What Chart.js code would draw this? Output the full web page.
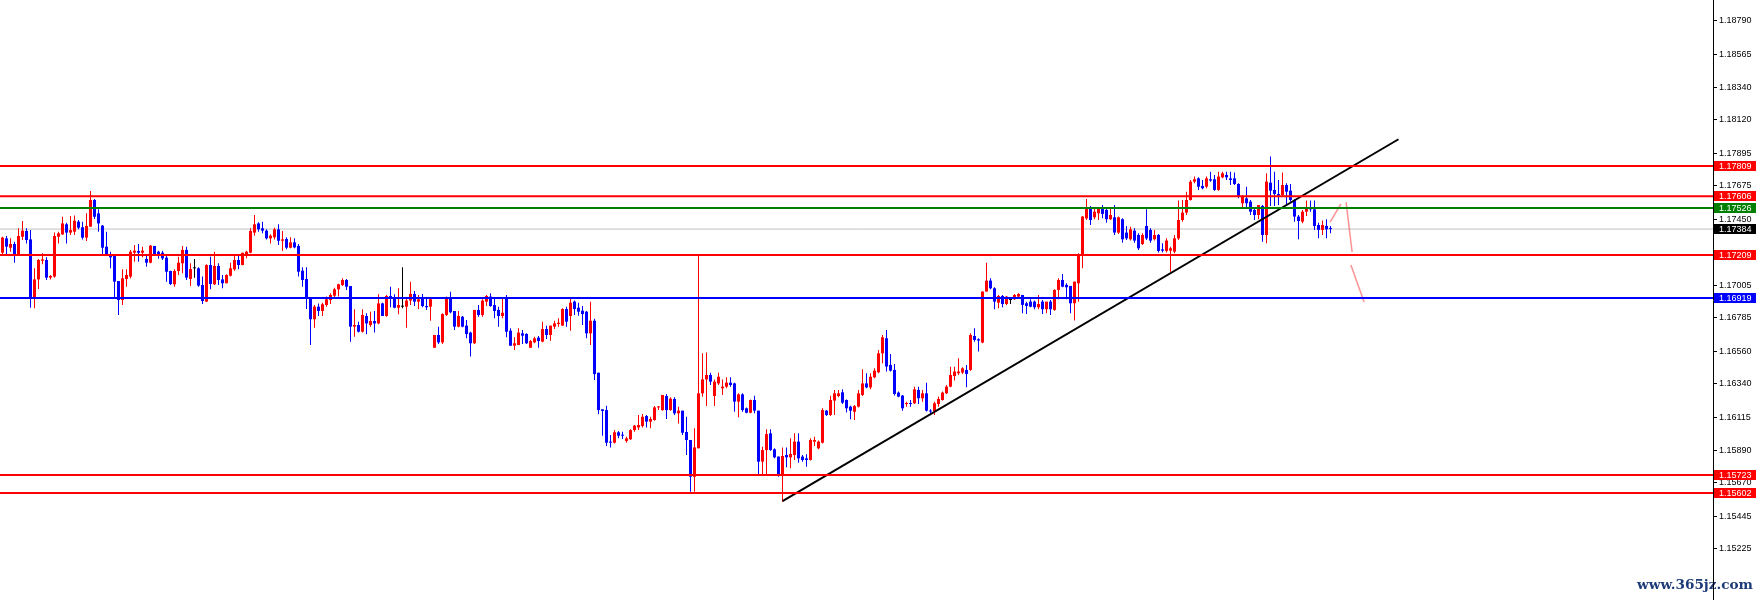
<!DOCTYPE html>
<html lang="es">
<head>
<meta charset="utf-8">
<title>EURUSD H1</title>
<script src="https://cdn.jsdelivr.net/npm/chart.js@4.4.1/dist/chart.umd.min.js"></script>
<style>
  html, body { margin: 0; padding: 0; background: #fff; }
  #contenedor { width: 1760px; height: 600px; position: relative; }
</style>
</head>
<body>
<div id="contenedor"><canvas id="myChart"></canvas></div>
<script>
// precios en puntos (117224 = 1.17224), una vela por posicion
const aperturas = [
  117224,117321,117258,117283,117209,117332,117371,117314,116916,117044,
  117170,117175,117056,117063,117332,117348,117416,117360,117366,117434,
  117396,117326,117400,117580,117490,117407,117265,117202,117202,117033,
  116905,117047,117063,117224,117236,117224,117182,117157,117270,117231,
  117224,117191,117101,117011,117101,117153,117243,117047,117119,117119,
  117006,116894,117141,117011,117135,117044,117018,117069,117112,117175,
  117141,117209,117224,117360,117422,117389,117373,117321,117328,117382,
  117305,117317,117258,117294,117270,117103,117047,116916,116775,116860,
  116831,116871,116905,116934,116977,117006,117040,116999,116725,116736,
  116691,116797,116736,116763,116747,116882,116797,116932,116916,116853,
  116860,116860,116901,116946,116894,116916,116864,116860,116583,116669,
  116619,116804,116916,116831,116725,116792,116732,116685,116613,116838,
  116804,116894,116928,116871,116838,116797,116912,116698,116597,116601,
  116680,116676,116583,116619,116651,116624,116709,116669,116725,116743,
  116732,116844,116797,116894,116853,116833,116826,116680,116765,116414,
  116167,116162,115949,115942,116012,115994,115953,115965,116027,116045,
  116054,116122,116084,116095,116180,116162,116257,116162,116237,116140,
  116158,116014,115960,115712,115904,116275,116369,116399,116257,116342,
  116309,116320,116347,116342,116219,116268,116174,116144,116230,116158,
  115814,115892,116005,115897,115848,115724,115859,115843,115859,115949,
  115848,115836,115825,115949,115904,115942,116158,116129,116226,116257,
  116282,116230,116185,116151,116185,116264,116342,116315,116383,116417,
  116545,116647,116467,116433,116280,116260,116203,116208,116208,116298,
  116242,116275,116158,116152,116203,116230,116275,116320,116392,116411,
  116415,116433,116433,116662,116640,116618,116962,117036,116984,116887,
  116932,116878,116905,116910,116928,116939,116883,116894,116894,116856,
  116894,116843,116894,116838,116973,117040,117007,117000,116883,117018,
  117202,117456,117531,117463,117490,117531,117513,117450,117463,117360,
  117450,117360,117315,117373,117344,117283,117405,117378,117315,117344,
  117247,117236,117238,117231,117321,117445,117495,117580,117704,117726,
  117675,117670,117720,117720,117648,117733,117749,117726,117726,117688,
  117558,117591,117569,117513,117479,117540,117344,117697,117648,117621,
  117614,117681,117643,117580,117468,117434,117501,117531,117517,117411,
  117378,117405,117387
];
const maximos = [
  117332,117337,117321,117299,117389,117438,117389,117377,117119,117182,
  117220,117193,117074,117360,117366,117467,117427,117472,117476,117445,
  117434,117490,117641,117587,117517,117411,117366,117231,117202,117033,
  117112,117112,117243,117276,117283,117265,117202,117276,117270,117238,
  117238,117215,117103,117112,117197,117270,117265,117153,117182,117126,
  117063,117146,117197,117231,117153,117074,117078,117157,117209,117202,
  117224,117238,117389,117479,117429,117434,117382,117348,117393,117416,
  117371,117328,117328,117321,117283,117126,117126,116916,116871,116882,
  116887,116928,116950,116988,117015,117051,117047,116999,116842,116759,
  116842,116815,116826,116831,116943,116887,116939,116995,116943,116984,
  117126,116923,117029,116966,116939,116946,116916,116916,116669,116725,
  116815,116928,116961,116831,116831,116797,116770,116691,116838,116871,
  116910,116939,116950,116923,116860,116923,116939,116714,116653,116714,
  116702,116680,116635,116657,116662,116759,116732,116732,116765,116781,
  116849,116860,116916,116901,116887,116865,116831,116894,116779,116414,
  116167,116192,115994,116027,116021,116016,115982,116032,116061,116129,
  116135,116129,116117,116189,116189,116264,116270,116248,116248,116185,
  116158,116117,115960,116039,117209,116545,116550,116414,116369,116414,
  116369,116383,116383,116347,116275,116275,116180,116234,116259,116158,
  115915,116032,116032,115904,115848,115910,115910,115971,116005,116005,
  115859,115863,115971,115982,115956,116174,116162,116259,116298,116298,
  116302,116234,116192,116196,116298,116437,116410,116410,116444,116568,
  116669,116703,116541,116473,116287,116264,116219,116230,116320,116320,
  116298,116347,116167,116219,116253,116287,116332,116455,116455,116512,
  116451,116467,116680,116714,116647,116962,117157,117052,116991,116939,
  116939,116932,116917,116946,116951,116939,116894,116910,116901,116939,
  116905,116894,116905,116977,117052,117081,117018,117000,117029,117220,
  117472,117587,117540,117524,117531,117546,117531,117531,117546,117468,
  117456,117405,117400,117389,117355,117355,117517,117389,117378,117351,
  117288,117321,117265,117344,117576,117580,117636,117715,117738,117733,
  117715,117738,117771,117749,117771,117771,117771,117771,117765,117693,
  117614,117670,117580,117524,117546,117546,117760,117873,117771,117715,
  117765,117693,117688,117585,117479,117513,117576,117576,117576,117427,
  117441,117450,117405
];
const minimos = [
  117209,117209,117231,117157,117202,117310,117287,116853,116849,116979,
  117146,117040,117044,117056,117287,117344,117287,117344,117344,117382,
  117314,117303,117400,117452,117366,117209,117209,117119,116916,116804,
  116871,116995,117051,117164,117164,117193,117130,117153,117209,117184,
  117175,117029,117006,116995,117074,117085,117040,117000,117056,116995,
  116878,116894,116977,117006,117006,116984,117018,117063,117103,117112,
  117139,117186,117220,117339,117366,117355,117314,117287,117314,117276,
  117236,117247,117254,117254,117063,116995,116844,116601,116718,116797,
  116797,116860,116878,116912,116928,117000,116973,116624,116657,116685,
  116685,116673,116725,116685,116741,116797,116792,116856,116849,116808,
  116849,116718,116871,116864,116844,116856,116837,116765,116583,116608,
  116608,116797,116815,116702,116721,116721,116646,116523,116608,116792,
  116792,116864,116860,116781,116725,116781,116653,116595,116568,116601,
  116608,116608,116583,116613,116583,116619,116642,116630,116709,116725,
  116732,116725,116698,116804,116799,116736,116646,116601,116365,116133,
  115989,115919,115910,115937,115971,115967,115942,115960,116016,116027,
  116045,116045,116039,116090,116162,116158,116102,116158,116129,116072,
  115994,115859,115611,115611,115904,116252,116190,116331,116190,116331,
  116264,116309,116320,116151,116113,116151,116140,116140,116140,115724,
  115724,115724,115888,115836,115712,115544,115776,115769,115825,115807,
  115814,115780,115821,115920,115897,115937,116122,116122,116129,116248,
  116203,116145,116100,116095,116180,116257,116309,116302,116376,116410,
  116478,116422,116422,116260,116248,116158,116185,116185,116203,116203,
  116219,116152,116129,116129,116185,116226,116271,116316,116361,116399,
  116406,116316,116428,116624,116557,116613,116962,116977,116843,116849,
  116856,116871,116878,116905,116917,116815,116811,116856,116842,116842,
  116811,116815,116804,116833,116910,116991,116910,116815,116766,116894,
  117119,117445,117411,117450,117445,117456,117427,117445,117344,117351,
  117292,117310,117306,117292,117243,117276,117310,117292,117306,117225,
  117225,117225,117096,117220,117310,117434,117479,117576,117693,117648,
  117652,117659,117704,117643,117643,117726,117715,117681,117681,117591,
  117531,117524,117479,117445,117450,117299,117288,117540,117540,117546,
  117603,117540,117569,117434,117315,117423,117472,117501,117378,117321,
  117344,117321,117355
];
const cierres = [
  117326,117265,117283,117209,117337,117373,117310,116916,117044,117175,
  117179,117056,117067,117337,117355,117422,117360,117377,117440,117393,
  117326,117405,117580,117467,117422,117258,117209,117193,117029,116905,
  117051,117074,117231,117238,117224,117238,117157,117272,117209,117202,
  117186,117096,117013,117101,117157,117243,117056,117114,117119,117002,
  116898,117141,117013,117135,117040,117018,117074,117119,117175,117141,
  117224,117231,117371,117416,117382,117373,117321,117339,117382,117305,
  117314,117258,117294,117260,117096,117040,116912,116775,116860,116831,
  116876,116910,116939,116977,117011,117040,116995,116725,116736,116691,
  116804,116747,116763,116747,116882,116797,116932,116916,116853,116871,
  116860,116901,116946,116894,116910,116864,116856,116910,116669,116619,
  116810,116923,116822,116725,116797,116725,116675,116613,116838,116804,
  116901,116932,116864,116831,116797,116819,116691,116597,116613,116685,
  116664,116613,116628,116646,116628,116709,116669,116732,116747,116752,
  116844,116759,116887,116844,116826,116810,116680,116765,116405,116162,
  116156,115942,115942,116012,115989,115989,115971,116027,116057,116061,
  116117,116084,116102,116180,116185,116264,116162,116239,116140,116158,
  116009,115960,115712,115910,116275,116369,116399,116354,116354,116387,
  116320,116347,116331,116219,116268,116162,116144,116230,116158,115814,
  115892,116000,115892,115843,115724,115852,115843,115866,115949,115836,
  115825,115825,115960,115960,115949,116162,116129,116230,116275,116275,
  116212,116174,116158,116189,116275,116342,116315,116387,116428,116545,
  116653,116456,116428,116271,116253,116174,116208,116203,116302,116242,
  116275,116158,116152,116208,116237,116280,116320,116399,116422,116422,
  116444,116406,116669,116635,116631,116962,117036,116984,116894,116932,
  116878,116928,116905,116939,116946,116872,116865,116860,116856,116878,
  116843,116894,116843,116973,117040,116995,116991,116883,117029,117202,
  117468,117531,117445,117501,117524,117486,117450,117479,117360,117463,
  117315,117321,117382,117306,117254,117344,117321,117306,117344,117236,
  117238,117306,117254,117321,117445,117495,117580,117704,117720,117670,
  117659,117726,117711,117648,117738,117760,117733,117715,117688,117607,
  117607,117558,117501,117479,117546,117344,117704,117643,117621,117607,
  117681,117636,117580,117468,117438,117501,117531,117517,117405,117378,
  117411,117382,117384
];

// etiquetas del eje de precios (la de 1.17225 queda tapada en el original)
const ticksPrecio = [1.18790, 1.18565, 1.18340, 1.18120, 1.17895, 1.17675, 1.17450, 1.17005,
  1.16785, 1.16560, 1.16340, 1.16115, 1.15890, 1.15670, 1.15445, 1.15225];

// lineas horizontales
const niveles = [1.17809, 1.17606, 1.17526, 1.17384, 1.17209, 1.16919, 1.15723, 1.15602];
const coloresNivel = ['#ff0000', '#ff0000', '#008000', '#c0c0c0', '#ff0000', '#0000ff', '#ff0000', '#ff0000'];
const fondosNivel = ['#ff0000', '#ff0000', '#008000', '#000000', '#ff0000', '#0000ff', '#ff0000', '#ff0000'];
const grosorNivel = [2, 2, 2, 1, 2, 2, 2, 2];

// linea de tendencia y flechas de proyeccion (vela, precio)
const tendencia = [[195, 1.15548], [349, 1.17990]];
const proyeccion = [
  [[331.9, 1.17431], [334.6, 1.17553]],
  [[335.9, 1.17566], [337.4, 1.17229]],
  [[337.1, 1.17141], [340.4, 1.16891]]
];

const xMin = -0.625;
const xMax = 427.625;
const yMin = 1.14880;
const yMax = 1.18930;

const pt = (p) => p / 100000;

const colorVela = aperturas.map((a, i) => cierres[i] > a ? '#ff0000' : (cierres[i] < a ? '#0000ff' : '#000000'));
const mechas = minimos.map((m, i) => ({ x: i, y: [pt(m), pt(maximos[i])] }));
const cuerpos = aperturas.map((a, i) => ({ x: i, y: [pt(a), pt(cierres[i])] }));

const datasets = [];

niveles.forEach((nivel, i) => {
  datasets.push({
    type: 'line',
    data: [{ x: xMin, y: nivel }, { x: xMax, y: nivel }],
    borderColor: coloresNivel[i],
    borderWidth: grosorNivel[i],
    pointRadius: 0,
    order: grosorNivel[i] === 1 ? 3 : 0
  });
});

datasets.push({
  type: 'line',
  data: tendencia.map(p => ({ x: p[0], y: p[1] })),
  borderColor: '#000000',
  borderWidth: 2,
  pointRadius: 0,
  order: 0
});

proyeccion.forEach(tramo => {
  datasets.push({
    type: 'line',
    data: tramo.map(p => ({ x: p[0], y: p[1] })),
    borderColor: 'rgba(255, 40, 40, 0.5)',
    borderWidth: 1.5,
    pointRadius: 0,
    order: 0
  });
});

datasets.push({
  type: 'bar',
  data: mechas,
  backgroundColor: colorVela,
  borderWidth: 0,
  barThickness: 1,
  grouped: false,
  inflateAmount: 0,
  order: 2
});

datasets.push({
  type: 'bar',
  data: cuerpos,
  backgroundColor: colorVela,
  borderWidth: 0,
  barThickness: 3,
  minBarLength: 1,
  grouped: false,
  inflateAmount: 0,
  order: 1
});

// cajas de precio a la derecha + marca de agua
const etiquetas = {
  id: 'etiquetas',
  beforeDraw(chart) {
    const { ctx } = chart;
    const texto = 'www.365jz.com';
    ctx.save();
    ctx.font = 'bold 14px "DejaVu Serif"';
    const ancho = ctx.measureText(texto).width;
    const tam = 14 * 116 / ancho;
    ctx.font = 'bold ' + tam.toFixed(1) + 'px "DejaVu Serif"';
    ctx.fillStyle = '#1d3b78';
    ctx.textBaseline = 'alphabetic';
    ctx.fillText(texto, 1637, 589);
    ctx.restore();
  },
  afterDraw(chart) {
    const { ctx, chartArea, scales: { y } } = chart;
    ctx.save();
    ctx.font = '9px "Liberation Sans"';
    ctx.textBaseline = 'middle';
    niveles.forEach((nivel, i) => {
      const py = Math.round(y.getPixelForValue(nivel));
      ctx.fillStyle = fondosNivel[i];
      ctx.fillRect(chartArea.right + 1, py - 5, 42, 10);
      ctx.fillStyle = '#ffffff';
      ctx.fillText(nivel.toFixed(5), chartArea.right + 6, py + 0.5);
    });
    ctx.restore();
  }
};

const ctx = document.getElementById('myChart').getContext('2d');
const myChart = new Chart(ctx, {
  type: 'bar',
  data: { datasets: datasets },
  options: {
    responsive: true,
    maintainAspectRatio: false,
    animation: false,
    devicePixelRatio: 1,
    events: [],
    layout: { padding: 0 },
    plugins: {
      legend: { display: false },
      tooltip: { enabled: false }
    },
    scales: {
      x: {
        type: 'linear',
        display: false,
        min: xMin,
        max: xMax,
        offset: false
      },
      y: {
        type: 'linear',
        position: 'right',
        min: yMin,
        max: yMax,
        afterFit(escala) {
          escala.width = 47;
          escala.paddingTop = 0;
          escala.paddingBottom = 0;
        },
        afterBuildTicks(escala) {
          escala.ticks = ticksPrecio.map(v => ({ value: v }));
        },
        ticks: {
          autoSkip: false,
          padding: 2,
          color: '#000000',
          font: { family: 'Liberation Sans', size: 9 },
          callback: (valor) => Number(valor).toFixed(5)
        },
        grid: {
          drawOnChartArea: false,
          drawTicks: true,
          tickLength: 4,
          color: '#000000'
        },
        border: { display: true, color: '#000000', width: 1 }
      }
    }
  },
  plugins: [etiquetas]
});
</script>
</body>
</html>
